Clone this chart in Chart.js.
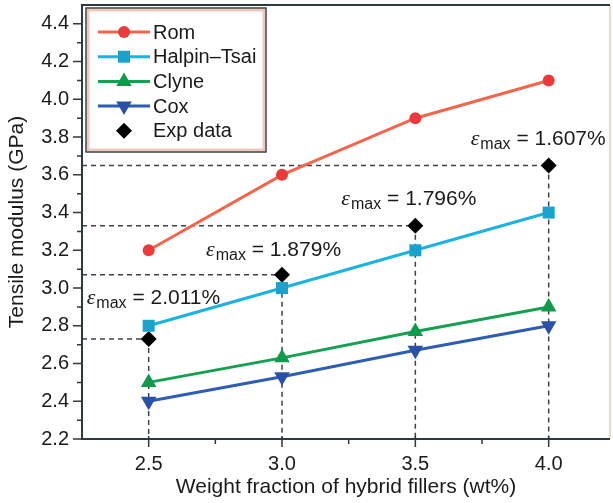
<!DOCTYPE html>
<html>
<head>
<meta charset="utf-8">
<script src="https://cdn.jsdelivr.net/npm/chart.js@4.4.1/dist/chart.umd.min.js"></script>
<style>
  html,body{margin:0;padding:0;background:#fff;}
  #wrap{width:613px;height:503px;position:relative;}
</style>
</head>
<body>
<div id="wrap"><canvas id="modulusChart" width="613" height="503"></canvas></div>
<script>
// filler loading (wt%)
const fillerWt = [2.5, 3.0, 3.5, 4.0];

// predicted tensile modulus (GPa) per model
const romModulus    = [3.2, 3.6, 3.9, 4.1];
const halpinModulus = [2.8, 3.0, 3.2, 3.4];
const clyneModulus  = [2.5, 2.63, 2.77, 2.9];
const coxModulus    = [2.4, 2.53, 2.67, 2.8];

// measured values and their max strain (%)
const expModulus = [2.73, 3.07, 3.33, 3.65];
const maxStrain  = ['2.011', '1.879', '1.796', '1.607'];

const xMajorTicks = [2.5, 3.0, 3.5, 4.0];
const xMinorTicks = [2.75, 3.25, 3.75];
const yMajorTicks = [2.2, 2.4, 2.6, 2.8, 3.0, 3.2, 3.4, 3.6, 3.8, 4.0, 4.2, 4.4];
const yMinorTicks = [2.3, 2.5, 2.7, 2.9, 3.1, 3.3, 3.5, 3.7, 3.9, 4.1, 4.3];

// where each strain label sits relative to its exp point (px)
const strainLabelOffset = [[-62, -35], [-76, -19], [-74, -21], [-78, -20]];

const FONT = "'Liberation Sans', Arial, Helvetica, sans-serif";

function pts(ys){ return fillerWt.map((x,i)=>({x, y: ys[i]})); }

const series = [
  {label:'Rom', data:pts(romModulus), borderColor:'#f2664e', backgroundColor:'#e93a3c', pointStyle:'circle', pointRadius:6, rotation:0},
  {label:'Halpin\u2013Tsai', data:pts(halpinModulus), borderColor:'#1cb3df', backgroundColor:'#1ba2cc', pointStyle:'rect', pointRadius:8.5, rotation:0},
  {label:'Clyne', data:pts(clyneModulus), borderColor:'#15a052', backgroundColor:'#129a4c', pointStyle:'triangle', pointRadius:9, rotation:0},
  {label:'Cox', data:pts(coxModulus), borderColor:'#2e5db4', backgroundColor:'#2a50a8', pointStyle:'triangle', pointRadius:9, rotation:180},
  {label:'Exp data', data:pts(expModulus), borderColor:'#000', backgroundColor:'#000', pointStyle:'rectRot', pointRadius:8, rotation:0, showLine:false}
];

const datasets = series.map(s=>({
  label:s.label, data:s.data,
  borderColor:s.borderColor, backgroundColor:s.backgroundColor,
  pointBackgroundColor:s.backgroundColor, pointBorderColor:s.backgroundColor,
  pointStyle:s.pointStyle, pointRadius:s.pointRadius, pointRotation:s.rotation,
  pointBorderWidth:0, pointHoverRadius:s.pointRadius,
  borderWidth:3, showLine:s.showLine !== false, tension:0
}));

// dashed guides from each exp point back to both axes
const guides = {
  id:'guides',
  beforeDatasetsDraw(chart){
    const {ctx, chartArea:a, scales:{x, y}} = chart;
    ctx.save();
    ctx.strokeStyle = '#3c4348';
    ctx.lineWidth = 1.5;
    ctx.setLineDash([5, 4]);
    fillerWt.forEach((w,i)=>{
      const px = x.getPixelForValue(w), py = y.getPixelForValue(expModulus[i]);
      ctx.beginPath();
      ctx.moveTo(a.left, py); ctx.lineTo(px, py);
      ctx.moveTo(px, py); ctx.lineTo(px, a.bottom);
      ctx.stroke();
    });
    ctx.restore();
  }
};

// frame, tick marks, strain labels and legend box
const decor = {
  id:'decor',
  afterDatasetsDraw(chart){
    const {ctx, chartArea:a, scales:{x, y}} = chart;
    ctx.save();

    // frame
    ctx.lineWidth = 1.5;
    ctx.strokeStyle = '#f3c7b8';
    ctx.beginPath(); ctx.moveTo(a.right, a.top); ctx.lineTo(a.right, a.bottom); ctx.stroke();
    ctx.strokeStyle = '#2d3a3e';
    ctx.lineWidth = 2;
    ctx.beginPath();
    ctx.moveTo(a.right, a.top); ctx.lineTo(a.left, a.top);
    ctx.lineTo(a.left, a.bottom); ctx.lineTo(a.right, a.bottom);
    ctx.stroke();

    // ticks
    ctx.lineWidth = 1.5;
    ctx.beginPath();
    xMajorTicks.forEach(v=>{ const p = x.getPixelForValue(v); ctx.moveTo(p, a.bottom - 3); ctx.lineTo(p, a.bottom + 8); });
    xMinorTicks.forEach(v=>{ const p = x.getPixelForValue(v); ctx.moveTo(p, a.bottom); ctx.lineTo(p, a.bottom + 5); });
    yMajorTicks.forEach(v=>{ const p = y.getPixelForValue(v); ctx.moveTo(a.left - 9, p); ctx.lineTo(a.left, p); });
    yMinorTicks.forEach(v=>{ const p = y.getPixelForValue(v); ctx.moveTo(a.left - 5, p); ctx.lineTo(a.left, p); });
    ctx.stroke();

    // strain labels
    ctx.fillStyle = '#1a1a1a';
    ctx.textBaseline = 'alphabetic';
    ctx.textAlign = 'left';
    fillerWt.forEach((w,i)=>{
      let tx = x.getPixelForValue(w) + strainLabelOffset[i][0];
      const ty = y.getPixelForValue(expModulus[i]) + strainLabelOffset[i][1];
      ctx.font = "italic 22px 'Liberation Serif', 'Times New Roman', serif";
      ctx.fillText('\u03b5', tx, ty);
      tx += ctx.measureText('\u03b5').width + 1;
      ctx.font = '16px ' + FONT;
      ctx.fillText('max', tx, ty + 4);
      tx += ctx.measureText('max').width;
      ctx.font = '21px ' + FONT;
      ctx.fillText(' = ' + maxStrain[i] + '%', tx, ty);
    });

    // legend
    const lx = 86, ly = 8, lw = 180, lh = 144;
    ctx.fillStyle = '#ffffff';
    ctx.fillRect(lx, ly, lw, lh);
    ctx.strokeStyle = '#f1c9bc';
    ctx.lineWidth = 3;
    ctx.strokeRect(lx + 2, ly + 2, lw - 4, lh - 4);
    ctx.strokeStyle = '#3b4548';
    ctx.lineWidth = 1.5;
    ctx.strokeRect(lx, ly, lw, lh);
    chart.data.datasets.forEach((ds,i)=>{
      const cy = 32 + i * 24.7;
      if (ds.showLine) {
        ctx.strokeStyle = ds.borderColor;
        ctx.lineWidth = 3;
        ctx.beginPath(); ctx.moveTo(98, cy); ctx.lineTo(150, cy); ctx.stroke();
      }
      ctx.fillStyle = ds.pointBackgroundColor;
      ctx.strokeStyle = ds.pointBackgroundColor;
      Chart.helpers.drawPoint(ctx, {pointStyle:ds.pointStyle, radius:ds.pointRadius, rotation:ds.pointRotation, borderWidth:0}, 124, cy);
      ctx.fillStyle = '#1a1a1a';
      ctx.font = '20px ' + FONT;
      ctx.textBaseline = 'middle';
      ctx.fillText(ds.label, 153, cy + 1);
    });
    ctx.restore();
  }
};

new Chart(document.getElementById('modulusChart').getContext('2d'), {
  type:'line',
  data:{datasets},
  options:{
    responsive:false,
    animation:false,
    layout:{autoPadding:false, padding:{left:0, top:5, right:3, bottom:0}},
    plugins:{legend:{display:false}, tooltip:{enabled:false}},
    scales:{
      x:{
        type:'linear', min:2.25, max:4.23,
        afterBuildTicks(s){ s.ticks = xMajorTicks.map(v=>({value:v})); },
        afterFit(s){ s.height = 64; s.paddingLeft = 0; s.paddingRight = 0; },
        border:{display:false},
        grid:{drawOnChartArea:false, tickLength:9, tickColor:'rgba(0,0,0,0)'},
        ticks:{padding:4, color:'#1a1a1a', font:{family:FONT, size:20}, callback:v=>v.toFixed(1), maxRotation:0},
        title:{display:true, text:'Weight fraction of hybrid fillers (wt%)', color:'#1a1a1a', font:{family:FONT, size:21}, padding:{top:0, bottom:3}}
      },
      y:{
        type:'linear', min:2.2, max:4.5,
        afterBuildTicks(s){ s.ticks = yMajorTicks.map(v=>({value:v})); },
        afterFit(s){ s.width = 82; s.paddingTop = 0; s.paddingBottom = 0; },
        border:{display:false},
        grid:{drawOnChartArea:false, tickLength:9, tickColor:'rgba(0,0,0,0)'},
        ticks:{padding:4, color:'#1a1a1a', font:{family:FONT, size:20}, callback:v=>v.toFixed(1)},
        title:{display:true, text:'Tensile modulus (GPa)', color:'#1a1a1a', font:{family:FONT, size:21}, padding:{top:5, bottom:0}}
      }
    }
  },
  plugins:[guides, decor]
});
</script>
</body>
</html>
